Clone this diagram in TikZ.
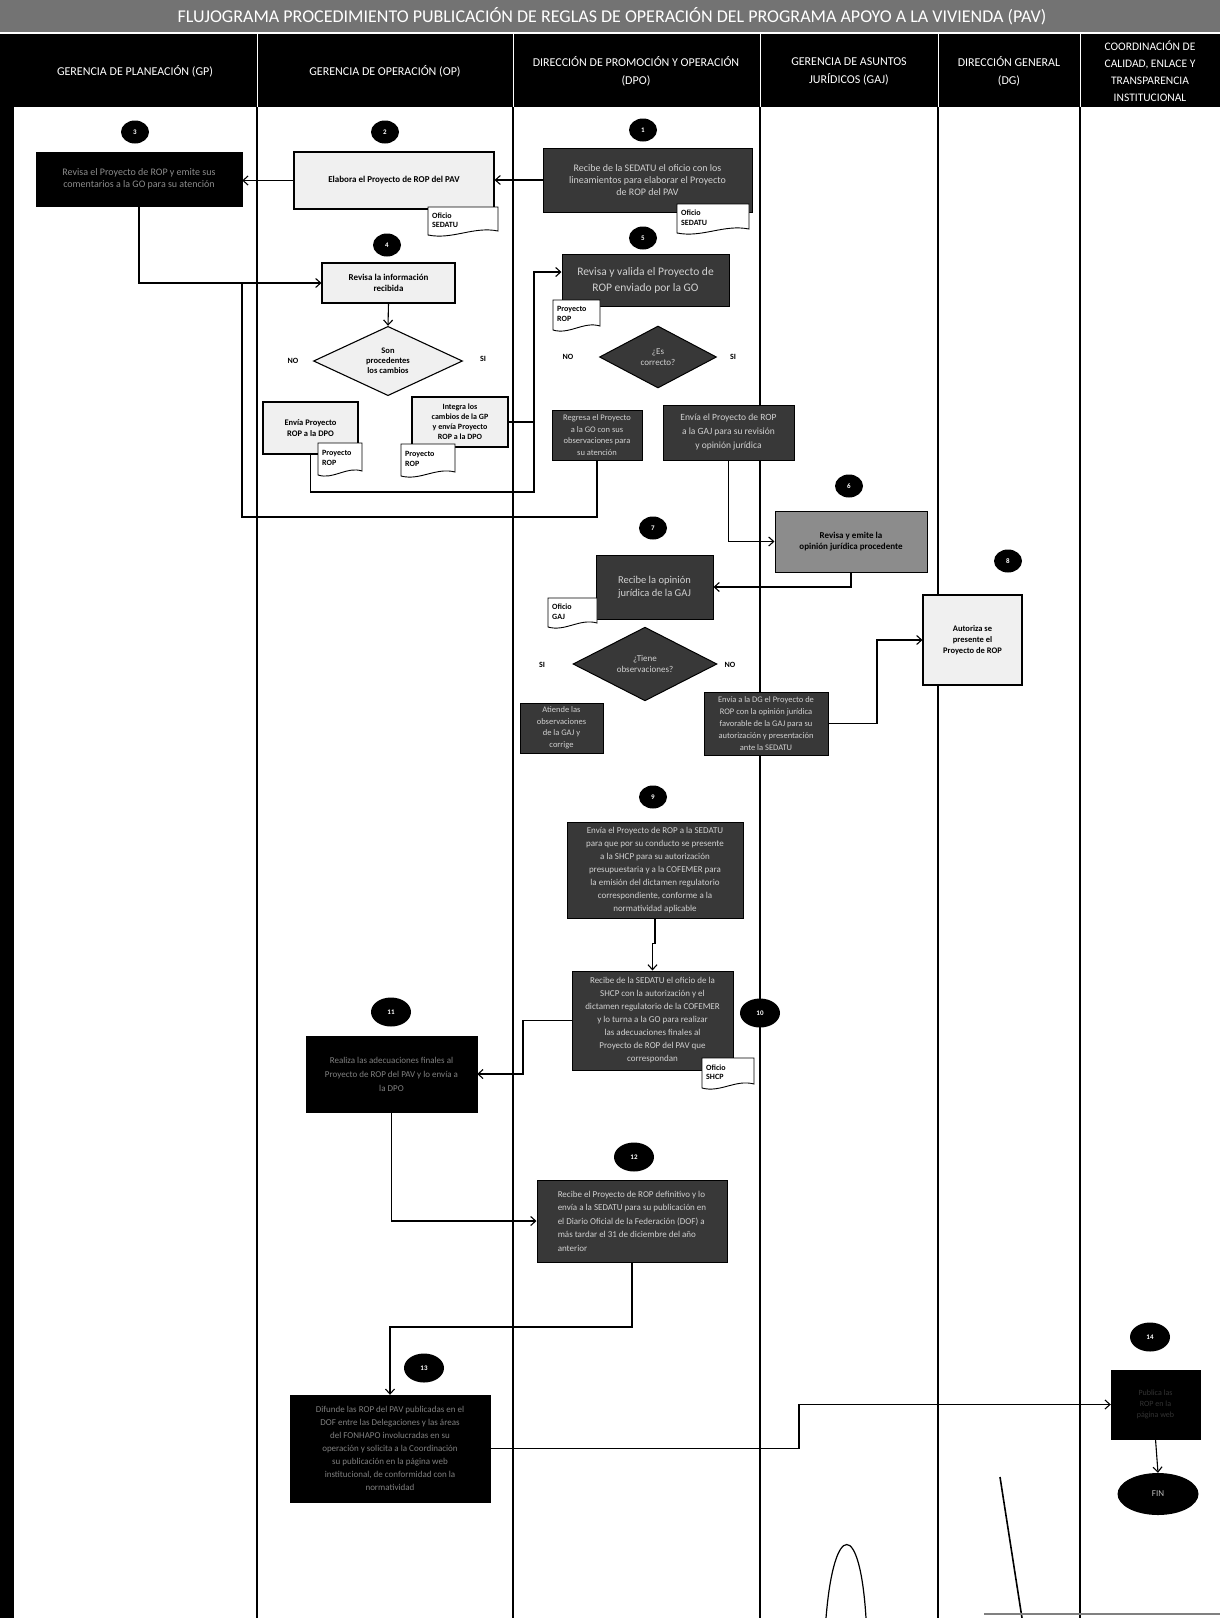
\documentclass[tikz,border=0pt]{standalone}
\usepackage{fontspec}
\setmainfont{Carlito}
\usetikzlibrary{arrows.meta,shapes.geometric,calc}

\newcommand\mydoc[6]{%
  \filldraw[docline] (#2,#3) -- (#4,#3) -- (#4,{#5-4}) .. controls ({#4-0.35*(#4-#2)},{#5-9}) and ({#2+0.35*(#4-#2)},{#5+5}) .. (#2,#5) -- cycle;
  \node[doctext, anchor=west] (#1) at ({#2+4},{(#3+#5)/2-1}) {#6};
}

\begin{document}
\begin{tikzpicture}[x=1pt,y=-1pt,
  hdr/.style={text=white, font=\fontsize{12}{18}\selectfont, align=center},
  titletext/.style={text=white, font=\fontsize{18}{20}\selectfont},
  lbox/.style={draw=black, line width=1.1pt, fill=black!6, text=black, font=\bfseries\fontsize{8.5}{10}\selectfont, align=center, inner sep=2pt},
  dbox/.style={draw=black, line width=1pt, fill=black!78, text=black!18, font=\fontsize{9}{13}\selectfont, align=center, inner sep=2pt},
  bbox/.style={draw=black, fill=black, text=black!50, font=\fontsize{9}{13}\selectfont, align=center, inner sep=2pt},
  gbox/.style={draw=black, line width=1pt, fill=black!45, text=black, font=\bfseries\fontsize{9}{11}\selectfont, align=center, inner sep=2pt},
  num/.style={ellipse, fill=black, text=white, inner sep=0pt, minimum width=28pt, minimum height=23pt, font=\bfseries\fontsize{7}{7}\selectfont},
  bignum/.style={num, minimum width=40pt, minimum height=29pt},
  yn/.style={font=\bfseries\fontsize{8}{8}\selectfont, inner sep=1pt},
  docline/.style={draw=black, line width=0.9pt, fill=white},
  doctext/.style={font=\bfseries\fontsize{8}{9.5}\selectfont, align=left, inner sep=0pt},
  lane/.style={line width=1.3pt},
  arr/.style={-{Straight Barb[length=5pt,width=9pt]}, line width=1.1pt},
  con/.style={line width=1.1pt}]

\useasboundingbox (0,0) rectangle (1220,1618);
\fill[white] (0,0) rectangle (1220,1618);

% title bar
\fill[black!55] (0,0) rectangle (1220,32);
\node[titletext] (title) at (612,16) {FLUJOGRAMA PROCEDIMIENTO PUBLICACIÓN DE REGLAS DE OPERACIÓN DEL PROGRAMA APOYO A LA VIVIENDA (PAV)};

% header
\fill[black] (0,34) rectangle (1220,107);
\foreach \x in {257,513,760,938,1080} \draw[white, line width=0.8pt] (\x,34) -- (\x,107);
\node[hdr] (h1) at (135,71) {GERENCIA DE PLANEACIÓN (GP)};
\node[hdr] (h2) at (385,71) {GERENCIA DE OPERACIÓN (OP)};
\node[hdr] (h3) at (636,71) {DIRECCIÓN DE PROMOCIÓN Y OPERACIÓN\\(DPO)};
\node[hdr] (h4) at (849,71) {GERENCIA DE ASUNTOS\\JURÍDICOS (GAJ)};
\node[hdr] (h5) at (1009,71) {DIRECCIÓN GENERAL\\(DG)};
\node[hdr, font=\fontsize{11.5}{17}\selectfont] (h6) at (1150,71) {COORDINACIÓN DE\\CALIDAD, ENLACE Y\\TRANSPARENCIA\\INSTITUCIONAL};

% lanes
\foreach \x in {257,513,760,938,1080} \draw[lane] (\x,107) -- (\x,1618);
\fill[black] (0,34) rectangle (14,1618);

% step numbers
\node[num] (n1) at (643,130) {1};
\node[num] (n2) at (385,132) {2};
\node[num] (n3) at (135,132) {3};
\node[num] (n4) at (387,245) {4};
\node[num] (n5) at (643,238) {5};
\node[num] (n6) at (849,486) {6};
\node[num] (n7) at (653,528) {7};
\node[num] (n8) at (1008,561) {8};
\node[num] (n9) at (653,797) {9};
\node[bignum] (n10) at (760,1013) {10};
\node[bignum] (n11) at (391,1012) {11};
\node[bignum] (n12) at (634,1157) {12};
\node[bignum] (n13) at (424,1368) {13};
\node[bignum] (n14) at (1150,1337) {14};

% boxes
\node[dbox, minimum width=209pt, minimum height=64pt, font=\fontsize{10}{12}\selectfont] (b1) at (647.5,180) {Recibe de la SEDATU el oficio con los\\lineamientos para elaborar el Proyecto\\de ROP del PAV};
\node[lbox, minimum width=200pt, minimum height=57pt, font=\bfseries\fontsize{9}{10}\selectfont] (b2) at (394,180.5) {Elabora el Proyecto de ROP del PAV};
\node[bbox, minimum width=206pt, minimum height=54pt, font=\fontsize{10}{12}\selectfont, text=black!45] (b3) at (139,179) {Revisa el Proyecto de ROP y emite sus\\comentarios a la GO para su atención};

\mydoc{d2}{428}{207}{498}{235}{Oficio\\SEDATU}
\mydoc{d1}{677}{204}{749}{233}{Oficio\\SEDATU}

\node[lbox, minimum width=133pt, minimum height=40pt, font=\bfseries\fontsize{9}{11}\selectfont] (b4) at (388.5,283) {Revisa la información\\recibida};
\node[lbox, diamond, minimum width=149pt, minimum height=67pt, inner sep=0pt] (d4) at (388,361) {Son\\procedentes\\los cambios};
\node[yn] (no4) at (293,361) {NO};
\node[yn] (si4) at (483,359) {SI};
\node[lbox, minimum width=95pt, minimum height=52pt, font=\bfseries\fontsize{8.5}{11}\selectfont] (b4a) at (310.5,428) {Envía Proyecto\\ROP a la DPO};
\node[lbox, minimum width=96pt, minimum height=50pt, font=\bfseries\fontsize{8}{10}\selectfont] (b4b) at (460,422) {Integra los\\cambios de la GP\\y envía Proyecto\\ROP a la DPO};
\mydoc{d4a}{318}{443}{362}{475}{Proyecto\\ROP}
\mydoc{d4b}{401}{444}{455}{476}{Proyecto\\ROP}

\node[dbox, minimum width=167pt, minimum height=52pt, font=\fontsize{11.5}{16}\selectfont] (b5) at (645.5,280) {Revisa y valida el Proyecto de\\ROP enviado por la GO};
\mydoc{d5}{553}{300}{600}{330}{Proyecto\\ROP}
\node[dbox, diamond, minimum width=117pt, minimum height=62pt, inner sep=0pt, font=\fontsize{9}{11}\selectfont] (dd5) at (658,357) {¿Es\\correcto?};
\node[yn] (no5) at (568,357) {NO};
\node[yn] (si5) at (733,357) {SI};
\node[dbox, minimum width=90pt, minimum height=50pt, font=\fontsize{8.5}{11.5}\selectfont] (b5no) at (597,435) {Regresa el Proyecto\\a la GO con sus\\observaciones para\\su atención};
\node[dbox, minimum width=131pt, minimum height=55pt, font=\fontsize{9.5}{14}\selectfont] (b5si) at (728.5,432.5) {Envía el Proyecto de ROP\\a la GAJ para su revisión\\y opinión jurídica};

\node[gbox, minimum width=152pt, minimum height=61pt] (b6) at (851,541.5) {Revisa y emite la\\opinión jurídica procedente};

\node[dbox, minimum width=117pt, minimum height=64pt, font=\fontsize{10.5}{13}\selectfont] (b7) at (654.5,587) {Recibe la opinión\\jurídica de la GAJ};
\mydoc{d7}{548}{598}{597}{627}{Oficio\\GAJ}
\node[dbox, diamond, minimum width=144pt, minimum height=68pt, inner sep=0pt, font=\fontsize{9}{11}\selectfont] (dd7) at (645,664) {¿Tiene\\observaciones?};
\node[yn] (si7) at (542,665) {SI};
\node[yn] (no7) at (730,665) {NO};
\node[dbox, minimum width=83pt, minimum height=50pt, font=\fontsize{8.5}{11.5}\selectfont] (b7si) at (561.5,728) {Atiende las\\observaciones\\de la GAJ y\\corrige};
\node[dbox, minimum width=124pt, minimum height=63pt, font=\fontsize{8.5}{12.2}\selectfont] (b7no) at (766,723.5) {Envía a la DG el Proyecto de\\ROP con la opinión jurídica\\favorable de la GAJ para su\\autorización y presentación\\ante la SEDATU};

\node[lbox, minimum width=99pt, minimum height=90pt, font=\bfseries\fontsize{8.5}{11}\selectfont] (b8) at (972.5,640) {Autoriza se\\presente el\\Proyecto de ROP};

\node[dbox, minimum width=176pt, minimum height=96pt] (b9) at (655,870) {Envía el Proyecto de ROP a la SEDATU\\para que por su conducto se presente\\a la SHCP para su autorización\\presupuestaria y a la COFEMER para\\la emisión del dictamen regulatorio\\correspondiente, conforme a la\\normatividad aplicable};

\node[dbox, minimum width=161pt, minimum height=99pt] (b10) at (652.5,1020.5) {Recibe de la SEDATU el oficio de la\\SHCP con la autorización y el\\dictamen regulatorio de la COFEMER\\y lo turna a la GO para realizar\\las adecuaciones finales al\\Proyecto de ROP del PAV que\\correspondan};
\mydoc{d10}{702}{1058}{754}{1088}{Oficio\\SHCP}

\node[bbox, minimum width=171pt, minimum height=76pt, font=\fontsize{9}{14}\selectfont] (b11) at (391.5,1074) {Realiza las adecuaciones finales al\\Proyecto de ROP del PAV y lo envía a\\la DPO};

\node[dbox, minimum width=190pt, minimum height=82pt, align=left, font=\fontsize{9}{13.5}\selectfont] (b12) at (632,1221) {Recibe el Proyecto de ROP definitivo y lo\\envía a la SEDATU para su publicación en\\el Diario Oficial de la Federación (DOF) a\\más tardar el 31 de diciembre del año\\anterior};

\node[bbox, minimum width=200pt, minimum height=107pt, font=\fontsize{9}{13}\selectfont] (b13) at (390,1448.5) {Difunde las ROP del PAV publicadas en el\\DOF entre las Delegaciones y las áreas\\del FONHAPO involucradas en su\\operación y solicita a la Coordinación\\su publicación en la página web\\institucional, de conformidad con la\\normatividad};

\node[bbox, minimum width=89pt, minimum height=69pt, text=black!80, font=\fontsize{8}{11}\selectfont] (b14) at (1155.5,1404.5) {Publica las\\ROP en la\\página web};
\node[ellipse, fill=black, text=black!25, minimum width=81pt, minimum height=42pt, inner sep=0pt, font=\fontsize{9}{9}\selectfont] (fin) at (1158,1494) {FIN};

% connectors
\draw[arr] (b1.west) -- (b1.west -| b2.east);
\draw[arr] (b2.west) -- (b2.west -| b3.east);
\draw[arr] (b3.south) |- (b4.west);
\draw[arr] (b4.south) -- (d4.north);
\coordinate (c1) at (534,492);
\draw[arr] (b4a.south) |- (c1) |- ([yshift=8pt]b5.west);
\draw[con] (b4b.east) -- (b4b.east -| c1);
\coordinate (c2) at (242,517);
\draw[con] (b5no.south) |- (c2) -- (c2 |- b4.west);
\draw[arr] (b5si.south) |- (b6.west);
\draw[arr] (b6.south) |- (b7.east);
\coordinate (c3) at (877,0);
\draw[arr] (b7no.east) -- (b7no.east -| c3) |- (b8.west);
\draw[arr] (b9.south) -- ++(0,25) -| (b10.north);
\coordinate (c4) at (523,0);
\draw[arr] (b10.west) -- (b10.west -| c4) |- (b11.east);
\draw[arr] (b11.south) |- (b12.west);
\coordinate (c5) at (0,1327);
\draw[arr] (b12.south) -- (b12.south |- c5) -| (b13.north);
\coordinate (c6) at (799,0);
\draw[arr] (b13.east) -- (b13.east -| c6) |- (b14.west);
\draw[arr] (b14.south) -- (fin.north);

% handwritten marks at the bottom
\draw[line width=1.2pt] (826,1618) .. controls (834,1520) and (860,1520) .. (866,1618);
\draw[line width=1.6pt] (1000,1477) -- (1022,1618);
\draw[black!50, line width=1.5pt] (984,1614) -- (1220,1614);

\end{tikzpicture}
\end{document}
